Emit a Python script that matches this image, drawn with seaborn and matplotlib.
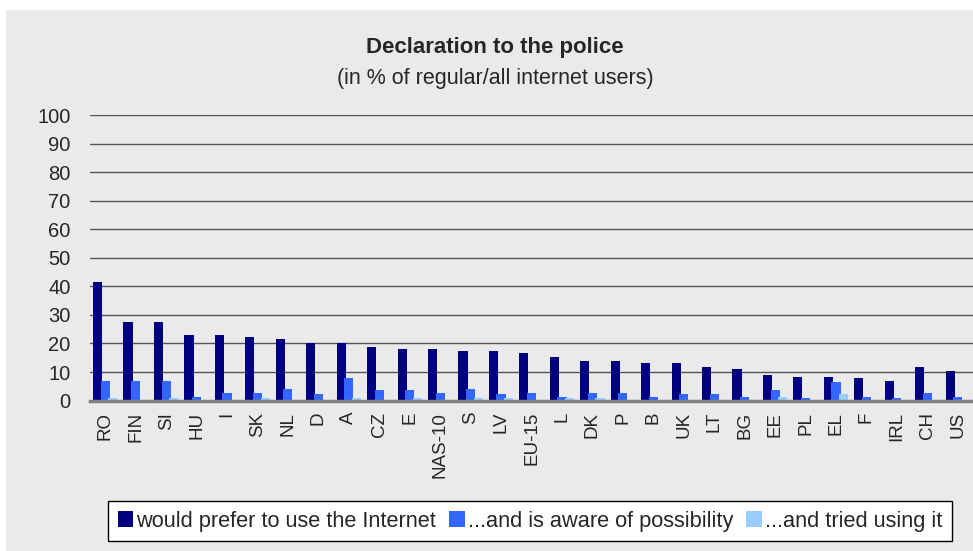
import numpy as np
import pandas as pd
import seaborn as sns
import matplotlib.pyplot as plt
from matplotlib.patches import Rectangle

countries = ['RO', 'FIN', 'SI', 'HU', 'I', 'SK', 'NL', 'D', 'A', 'CZ', 'E', 'NAS-10',
             'S', 'LV', 'EU-15', 'L', 'DK', 'P', 'B', 'UK', 'LT', 'BG', 'EE', 'PL',
             'EL', 'F', 'IRL', 'CH', 'US']
prefer = [41.6, 27.5, 27.5, 23.1, 23.1, 22.4, 21.7, 20.3, 20.3, 18.9, 18.2, 18.2,
          17.5, 17.5, 16.8, 15.4, 14.0, 14.0, 13.3, 13.3, 11.9, 11.2, 9.1, 8.4,
          8.4, 8.0, 6.9, 11.9, 10.5]
aware = [7.0, 7.0, 7.0, 1.2, 2.6, 2.6, 4.0, 2.3, 8.0, 3.7, 3.7, 2.7,
         4.0, 2.3, 2.7, 1.2, 2.7, 2.7, 1.2, 2.3, 2.3, 1.2, 3.7, 0.9,
         6.5, 1.2, 0.9, 2.7, 1.2]
tried = [1.0, 0.0, 1.0, 0.0, 0.0, 1.0, 0.0, 0.0, 1.0, 0.0, 1.0, 0.0,
         1.0, 1.0, 0.0, 1.0, 1.0, 0.0, 0.0, 0.0, 0.0, 0.0, 1.2, 0.0,
         2.3, 0.0, 0.0, 0.0, 0.0]
series = ['would prefer to use the Internet', '...and is aware of possibility',
          '...and tried using it']
colors = ['#000080', '#3366FF', '#99CCFF']

df = pd.DataFrame({'pays': countries * 3,
                   'valeur': prefer + aware + tried,
                   'serie': [series[0]] * len(countries) + [series[1]] * len(countries)
                            + [series[2]] * len(countries)})

sns.set_style('white')
plt.rcParams['font.family'] = ['Liberation Sans', 'DejaVu Sans']

fig = plt.figure(figsize=(9.73, 5.51), dpi=100)
# fond gris du graphique
fig.patches.append(Rectangle((6 / 973, 0), 1, 1 - 10 / 551, transform=fig.transFigure,
                             facecolor='#EAEAEA', edgecolor='none', zorder=-10))
ax = fig.add_axes([90 / 973, 0.273, 1 - 90 / 973, 0.518])
ax.set_facecolor('none')

sns.barplot(data=df, x='pays', y='valeur', hue='serie', palette=colors,
            width=0.75, saturation=1, linewidth=0, ax=ax, legend=True, zorder=3)

# barres un peu plus larges, qui se chevauchent
for bar in ax.patches:
    c = bar.get_x() + bar.get_width() / 2
    bar.set_width(0.3)
    bar.set_x(c - 0.15)
    bar.set_edgecolor('none')

ax.set_ylim(0, 100)
ax.set_xlim(-0.5, len(countries) - 0.5)
ax.set_yticks(range(0, 101, 10))
ax.yaxis.grid(True, color='#555555', linewidth=1)
ax.set_axisbelow(True)
for s in ['top', 'right', 'left']:
    ax.spines[s].set_visible(False)
ax.spines['bottom'].set_color('#808080')
ax.spines['bottom'].set_linewidth(2.5)
ax.spines['bottom'].set_zorder(4)
ax.tick_params(axis='y', length=0, pad=14, labelsize=14.5)
ax.tick_params(axis='x', length=0, pad=8, labelsize=13.5, labelrotation=90)
ax.set_xlabel('')
ax.set_ylabel('')

fig.text(0.509, 0.913, 'Declaration to the police', ha='center', va='center',
         fontsize=16, fontweight='bold')
fig.text(0.509, 0.858, '(in % of regular/all internet users)', ha='center', va='center',
         fontsize=15.5)

handles, labels = ax.get_legend_handles_labels()
ax.legend(handles, labels, loc='center', bbox_to_anchor=(530 / 973, 1 - 521 / 551),
          bbox_transform=fig.transFigure, ncol=3, frameon=True, fontsize=15.7,
          handlelength=0.7, handleheight=0.75, handletextpad=0.15, columnspacing=0.6,
          borderpad=0.45, borderaxespad=0, fancybox=False, edgecolor='black', framealpha=1)
ax.get_legend().get_frame().set_linewidth(1)

plt.savefig('out.png', dpi=100)
